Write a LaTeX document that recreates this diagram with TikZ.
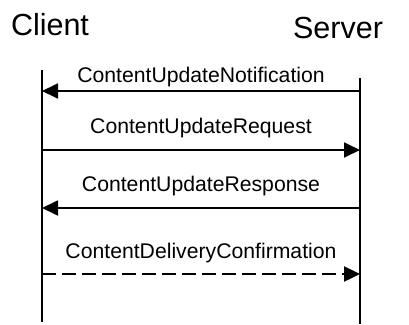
\documentclass[tikz,border=0pt]{standalone}
\usepackage{fontspec}
\setmainfont{Liberation Sans}
\usetikzlibrary{arrows.meta}
\begin{document}
\begin{tikzpicture}[x=1pt,y=-1pt,
  lifeline/.style={line width=1.8pt},
  msg/.style={line width=1.8pt,-{Triangle[length=16pt,width=15pt]}},
  dmsg/.style={msg,line width=2.4pt,dash pattern=on 14pt off 6pt},
  lbl/.style={anchor=base,inner sep=0pt,font=\fontsize{21.2}{25}\selectfont},
  hdr/.style={anchor=base,inner sep=0pt,font=\fontsize{30.5}{36}\selectfont}]
\useasboundingbox (0,0) rectangle (409,324);
\node[hdr] (client) at (50,35) {Client};
\node[hdr] (server) at (338,38) {Server};
\coordinate (ct) at (42,70);
\coordinate (cb) at (42,322);
\coordinate (st) at (360,78);
\coordinate (sb) at (360,324);
\draw[lifeline] (ct) -- (cb);
\draw[lifeline] (st) -- (sb);
\coordinate (s1) at (360,91); \coordinate (c1) at (42,91);
\coordinate (c2) at (42,150); \coordinate (s2) at (360,150);
\coordinate (s3) at (360,208); \coordinate (c3) at (42,208);
\coordinate (c4) at (42,274); \coordinate (s4) at (360,274);
\draw[msg] (s1) -- (c1);
\draw[msg] (c2) -- (s2);
\draw[msg] (s3) -- (c3);
\draw[dmsg] (c4) -- (s4);
\node[lbl] (l1) at (201,82) {ContentUpdateNotification};
\node[lbl] (l2) at (201,133) {ContentUpdateRequest};
\node[lbl] (l3) at (201,191) {ContentUpdateResponse};
\node[lbl] (l4) at (201,258) {ContentDeliveryConfirmation};
\end{tikzpicture}
\end{document}
